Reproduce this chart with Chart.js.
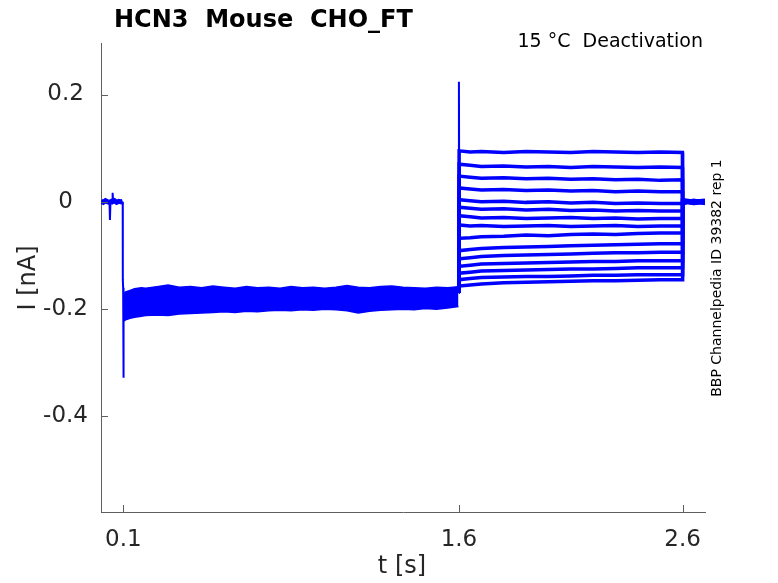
<!DOCTYPE html>
<html>
<head>
<meta charset="utf-8">
<script src="https://cdn.jsdelivr.net/npm/chart.js@4.4.1/dist/chart.umd.min.js"></script>
<style>
html,body{margin:0;padding:0;background:#fff;}
#wrap{width:778px;height:583px;position:relative;}
</style>
</head>
<body>
<div id="wrap"><canvas id="c" width="778" height="583"></canvas></div>
<script>
// ---------- data ----------
const xTicks = [0.1, 1.6, 2.6];
const yTicks = [-0.4, -0.2, 0, 0.2];

// holding period before the pulse
const holdT = [0, 0.01, 0.02, 0.03, 0.038, 0.046, 0.05, 0.06, 0.07, 0.08, 0.09, 0.097];
const holdI = [0.001, -0.001, 0.002, 0.000, -0.001, 0.001, 0.000, 0.002, -0.001, 0.001, 0.000, 0.001];
// small artefacts during holding
const artT = [0.038, 0.040, 0.042, 0.050, 0.052, 0.054];
const artI = [0.000, -0.034, -0.004, 0.001, 0.017, 0.002];
// onset of the first step
const onsetT = [0.097, 0.0975, 0.099, 0.100, 0.1005, 0.102];
const onsetI = [0.000, -0.145, -0.160, -0.328, -0.250, -0.215];

// envelope of the overlapping sweeps during the first step
const bandT = [0.101, 0.11, 0.13, 0.15, 0.18, 0.2, 0.25, 0.3, 0.35, 0.4, 0.45, 0.5, 0.55, 0.6, 0.65, 0.7, 0.75, 0.8, 0.85, 0.9, 0.95, 1.0, 1.05, 1.1, 1.15, 1.2, 1.25, 1.3, 1.35, 1.4, 1.45, 1.5, 1.55, 1.598];
const bandUpper = [-0.172, -0.168, -0.165, -0.162, -0.160, -0.161, -0.158, -0.155, -0.159, -0.158, -0.160, -0.157, -0.159, -0.161, -0.158, -0.160, -0.159, -0.161, -0.158, -0.160, -0.159, -0.161, -0.159, -0.156, -0.159, -0.160, -0.158, -0.157, -0.159, -0.160, -0.161, -0.159, -0.160, -0.158];
const bandLower = [-0.222, -0.220, -0.217, -0.215, -0.213, -0.212, -0.211, -0.212, -0.209, -0.208, -0.207, -0.206, -0.205, -0.206, -0.204, -0.205, -0.203, -0.202, -0.203, -0.201, -0.202, -0.200, -0.201, -0.203, -0.207, -0.204, -0.202, -0.201, -0.200, -0.201, -0.199, -0.200, -0.198, -0.195];

// capacitive spike at the second step
const spikeT = [1.5995, 1.6, 1.6008];
const spikeI = [-0.170, 0.224, 0.090];

// second step (deactivation) and return to holding, one row per sweep
const stepT = [1.6, 1.601, 1.65, 1.7, 1.8, 1.9, 2.0, 2.1, 2.2, 2.3, 2.4, 2.5, 2.599, 2.6, 2.65, 2.7];
const sweeps = [
  [-0.17, 0.095, 0.093, 0.094, 0.092, 0.094, 0.093, 0.092, 0.094, 0.093, 0.092, 0.093, 0.092, 0.004, 0.001, 0.003],
  [-0.17, 0.070, 0.068, 0.066, 0.067, 0.065, 0.066, 0.064, 0.066, 0.065, 0.064, 0.065, 0.064, 0.002, -0.001, 0.001],
  [-0.17, 0.048, 0.046, 0.044, 0.045, 0.043, 0.044, 0.042, 0.043, 0.041, 0.042, 0.040, 0.041, 0.000, 0.002, -0.001],
  [-0.17, 0.026, 0.024, 0.022, 0.023, 0.021, 0.022, 0.020, 0.021, 0.019, 0.020, 0.019, 0.019, -0.002, 0.000, 0.002],
  [-0.17, 0.004, 0.002, 0.000, 0.001, -0.001, 0.000, -0.002, -0.001, -0.003, -0.002, -0.003, -0.003, 0.003, -0.002, 0.000],
  [-0.17, -0.010, -0.012, -0.014, -0.013, -0.015, -0.014, -0.016, -0.015, -0.017, -0.016, -0.017, -0.017, -0.003, 0.001, -0.002],
  [-0.17, -0.026, -0.028, -0.030, -0.029, -0.031, -0.030, -0.029, -0.031, -0.030, -0.032, -0.031, -0.031, 0.001, -0.003, 0.002],
  [-0.17, -0.043, -0.045, -0.044, -0.046, -0.045, -0.044, -0.046, -0.045, -0.044, -0.046, -0.045, -0.045, -0.001, 0.003, -0.001],
  [-0.17, -0.068, -0.067, -0.065, -0.064, -0.062, -0.063, -0.061, -0.060, -0.061, -0.059, -0.058, -0.058, 0.002, -0.001, 0.000],
  [-0.17, -0.091, -0.089, -0.087, -0.085, -0.084, -0.083, -0.082, -0.081, -0.080, -0.079, -0.078, -0.078, -0.002, 0.002, -0.003],
  [-0.17, -0.106, -0.104, -0.102, -0.100, -0.099, -0.098, -0.097, -0.096, -0.095, -0.095, -0.094, -0.094, 0.000, -0.002, 0.001],
  [-0.17, -0.120, -0.118, -0.116, -0.115, -0.114, -0.113, -0.112, -0.111, -0.111, -0.110, -0.110, -0.110, 0.003, 0.000, -0.002],
  [-0.17, -0.133, -0.131, -0.129, -0.128, -0.127, -0.126, -0.125, -0.125, -0.124, -0.123, -0.123, -0.123, -0.001, 0.002, 0.001],
  [-0.17, -0.145, -0.143, -0.141, -0.140, -0.139, -0.139, -0.138, -0.137, -0.137, -0.136, -0.136, -0.136, 0.001, -0.003, -0.001],
  [-0.17, -0.157, -0.155, -0.153, -0.151, -0.150, -0.149, -0.148, -0.147, -0.147, -0.146, -0.145, -0.145, -0.002, 0.001, 0.002]
];

const titleText = 'HCN3  Mouse  CHO_FT';
const condText = '15 °C  Deactivation';
const idText = 'BBP Channelpedia ID 39382 rep 1';
const xTitle = 't [s]';
const yTitle = 'I [nA]';

// ---------- chart ----------
const BLUE = '#0000ff';
const FONT = "'DejaVu Sans', 'Liberation Sans', sans-serif";
const pts = (t, v) => t.map((x, i) => ({x: x, y: v[i]}));
const line = (data, w, extra) => Object.assign({data: data, borderColor: BLUE, borderWidth: w, pointRadius: 0, fill: false, tension: 0}, extra || {});

const datasets = [
  line(pts(holdT, holdI), 5),
  line(pts(artT, artI), 2),
  line(pts(onsetT, onsetI), 2),
  line(pts(bandT, bandUpper), 1.5),
  line(pts(bandT, bandLower), 1.5, {fill: '-1', backgroundColor: BLUE}),
  line(pts(spikeT, spikeI), 2)
];
sweeps.forEach(s => datasets.push(line(pts(stepT, s), 3.5)));

const overlay = {
  id: 'overlay',
  afterDraw(chart) {
    const ctx = chart.ctx, xs = chart.scales.x, ys = chart.scales.y, a = chart.chartArea;
    ctx.save();
    // inward tick marks
    ctx.strokeStyle = '#5f5f5f';
    ctx.lineWidth = 1;
    xTicks.forEach(v => {
      const px = Math.round(xs.getPixelForValue(v)) + 0.5;
      ctx.beginPath(); ctx.moveTo(px, a.bottom); ctx.lineTo(px, a.bottom - 7); ctx.stroke();
    });
    yTicks.forEach(v => {
      const py = Math.round(ys.getPixelForValue(v)) + 0.5;
      ctx.beginPath(); ctx.moveTo(a.left, py); ctx.lineTo(a.left + 7, py); ctx.stroke();
    });
    // title
    ctx.fillStyle = '#000';
    ctx.font = 'bold 24px ' + FONT;
    ctx.textAlign = 'left'; ctx.textBaseline = 'alphabetic';
    ctx.fillText(titleText, 114, 27);
    // condition text
    ctx.font = '19px ' + FONT;
    ctx.textAlign = 'right';
    ctx.fillText(condText, 703, 47);
    // vertical id text
    ctx.save();
    ctx.translate(717, 278);
    ctx.rotate(-Math.PI / 2);
    ctx.font = '14px ' + FONT;
    ctx.textAlign = 'center'; ctx.textBaseline = 'middle';
    ctx.fillText(idText, 0, 0);
    ctx.restore();
    // axis titles
    ctx.fillStyle = '#262626';
    ctx.font = '24px ' + FONT;
    ctx.textAlign = 'center'; ctx.textBaseline = 'middle';
    ctx.fillText(xTitle, 402, 567);
    ctx.save();
    ctx.translate(29, 278);
    ctx.rotate(-Math.PI / 2);
    ctx.fillText(yTitle, 0, 0);
    ctx.restore();
    ctx.restore();
  }
};

new Chart(document.getElementById('c'), {
  type: 'line',
  data: {datasets: datasets},
  plugins: [overlay],
  options: {
    responsive: false,
    animation: false,
    devicePixelRatio: 1,
    layout: {padding: {top: 43, right: 73, left: 0, bottom: 0}},
    plugins: {legend: {display: false}, tooltip: {enabled: false}, title: {display: false}},
    scales: {
      x: {
        type: 'linear', min: 0, max: 2.7,
        afterBuildTicks: s => { s.ticks = xTicks.map(v => ({value: v})); },
        afterFit: s => { s.height = 71; },
        grid: {display: false, drawTicks: false},
        border: {display: true, color: '#5f5f5f', width: 1},
        ticks: {padding: 14, color: '#262626', font: {family: FONT, size: 23}, maxRotation: 0, autoSkip: false,
          callback: v => v.toFixed(1)}
      },
      y: {
        type: 'linear', min: -0.578, max: 0.296,
        afterBuildTicks: s => { s.ticks = yTicks.map(v => ({value: v})); },
        afterFit: s => { s.width = 101; },
        grid: {display: false, drawTicks: false},
        border: {display: true, color: '#5f5f5f', width: 1},
        ticks: {padding: 13, crossAlign: 'center', color: '#262626', font: {family: FONT, size: 23}, autoSkip: false,
          callback: v => (v === 0 ? '0' : v.toFixed(1))}
      }
    }
  }
});
</script>
</body>
</html>
